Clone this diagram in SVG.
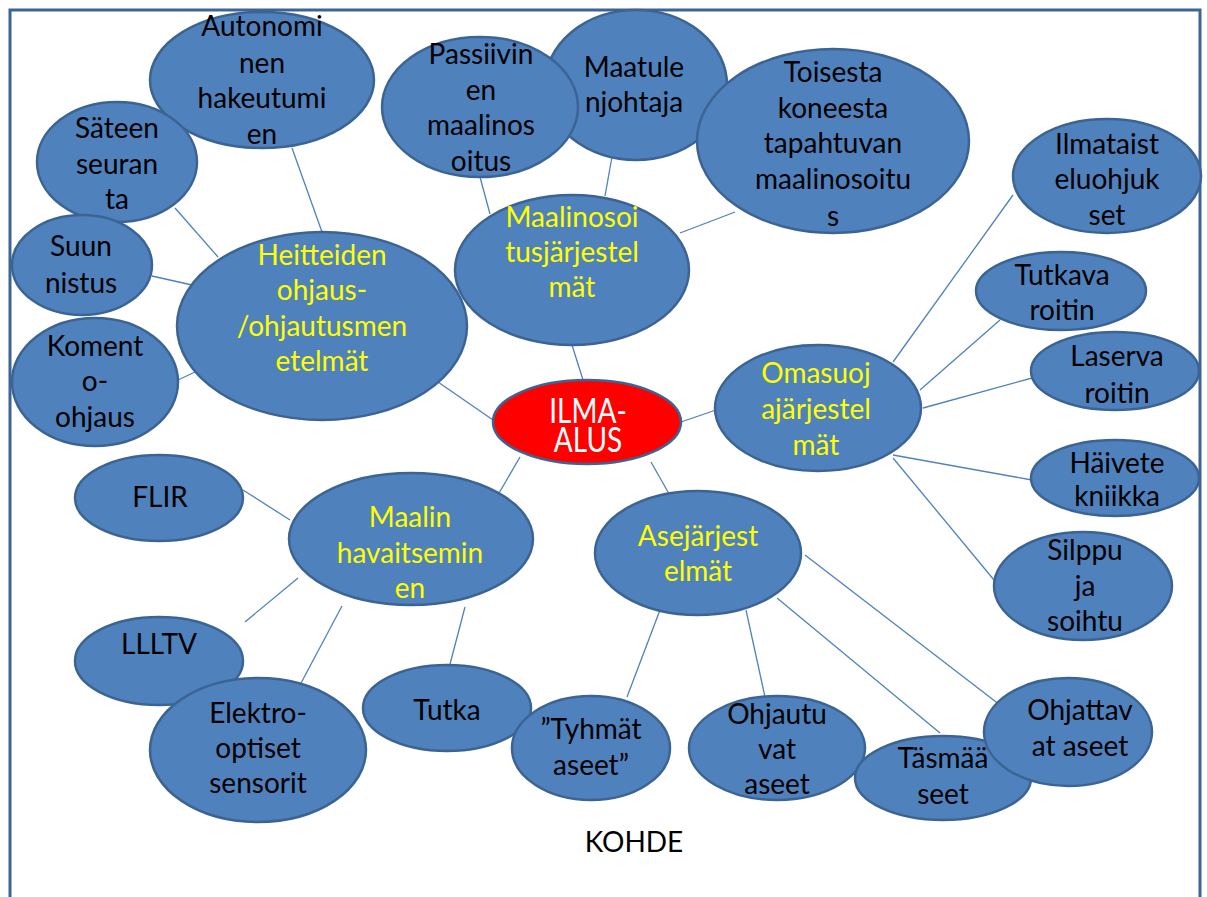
<svg xmlns="http://www.w3.org/2000/svg" width="1207" height="897" viewBox="0 0 1207 897">
<style>
.n{fill:#4F81BD;stroke:#3B6494;stroke-width:2.5}
.r{fill:#FF0000;stroke:#3B6494;stroke-width:2.5}
.t{font-family:Lato,"Open Sans",sans-serif;font-size:28px;text-anchor:middle;fill:#000}
.y{fill:#FFFF00}
.w{fill:#FFFFFF}
.c line{stroke:#4F81BD;stroke-width:1.3}
</style>
<rect width="1207" height="897" fill="#FFFFFF"/>
<rect x="10" y="10" width="1190" height="900" fill="none" stroke="#3E6396" stroke-width="3"/>
<g id="connectors" class="c">
<line x1="292" y1="148" x2="322" y2="232"/>
<line x1="175" y1="208" x2="218" y2="257"/>
<line x1="152" y1="276" x2="192" y2="285"/>
<line x1="178" y1="380" x2="195" y2="372"/>
<line x1="438" y1="382" x2="493" y2="420"/>
<line x1="480" y1="177" x2="490" y2="214"/>
<line x1="615" y1="140" x2="605" y2="196"/>
<line x1="735" y1="212" x2="680" y2="233"/>
<line x1="572" y1="345" x2="583" y2="380"/>
<line x1="681" y1="422" x2="716" y2="410"/>
<line x1="893" y1="362" x2="1013" y2="195"/>
<line x1="920" y1="390" x2="1000" y2="320"/>
<line x1="923" y1="408" x2="1032" y2="378"/>
<line x1="893" y1="455" x2="1032" y2="480"/>
<line x1="893" y1="458" x2="994" y2="580"/>
<line x1="520" y1="457" x2="495" y2="500"/>
<line x1="651" y1="462" x2="668" y2="492"/>
<line x1="243" y1="490" x2="290" y2="520"/>
<line x1="245" y1="622" x2="298" y2="578"/>
<line x1="342" y1="606" x2="300" y2="685"/>
<line x1="465" y1="607" x2="449" y2="668"/>
<line x1="660" y1="610" x2="627" y2="697"/>
<line x1="746" y1="610" x2="765" y2="697"/>
<line x1="777" y1="598" x2="940" y2="733"/>
<line x1="805" y1="555" x2="1000" y2="705"/>
</g>
<g id="autonomi"><ellipse class="n" cx="262" cy="80" rx="112" ry="68"/><text class="t"><tspan x="262" y="36">Autonomi</tspan><tspan x="262" y="73">nen</tspan><tspan x="262" y="108">hakeutumi</tspan><tspan x="262" y="144">en</tspan></text></g>
<g id="sateen"><ellipse class="n" cx="117" cy="162" rx="80" ry="60"/><text class="t"><tspan x="117" y="138">Säteen</tspan><tspan x="117" y="174">seuran</tspan><tspan x="117" y="209">ta</tspan></text></g>
<g id="suunnistus"><ellipse class="n" cx="82" cy="265" rx="70" ry="50"/><text class="t"><tspan x="81" y="256">Suun</tspan><tspan x="81" y="293">nistus</tspan></text></g>
<g id="komento"><ellipse class="n" cx="95" cy="382" rx="83" ry="64"/><text class="t"><tspan x="95" y="356">Koment</tspan><tspan x="95" y="391">o-</tspan><tspan x="95" y="427">ohjaus</tspan></text></g>
<g id="heitteiden"><ellipse class="n" cx="322" cy="326" rx="145" ry="94"/><text class="t y"><tspan x="322" y="265">Heitteiden</tspan><tspan x="322" y="300">ohjaus-</tspan><tspan x="322" y="336">/ohjautusmen</tspan><tspan x="322" y="371">etelmät</tspan></text></g>
<g id="maatulenjohtaja"><ellipse class="n" cx="636" cy="85" rx="91" ry="75"/><text class="t"><tspan x="634" y="77">Maatule</tspan><tspan x="634" y="112">njohtaja</tspan></text></g>
<g id="passiivinen"><ellipse class="n" cx="480" cy="107" rx="98" ry="70"/><text class="t"><tspan x="481" y="64">Passiivin</tspan><tspan x="481" y="100">en</tspan><tspan x="481" y="135">maalinos</tspan><tspan x="481" y="171">oitus</tspan></text></g>
<g id="toisesta"><ellipse class="n" cx="833" cy="141" rx="136" ry="92"/><text class="t"><tspan x="833" y="82">Toisesta</tspan><tspan x="833" y="118">koneesta</tspan><tspan x="833" y="153">tapahtuvan</tspan><tspan x="833" y="189">maalinosoitu</tspan><tspan x="833" y="226">s</tspan></text></g>
<g id="maalinosoitus"><ellipse class="n" cx="572" cy="270" rx="117" ry="75"/><text class="t y"><tspan x="572" y="227">Maalinosoi</tspan><tspan x="572" y="262">tusjärjestel</tspan><tspan x="572" y="297">mät</tspan></text></g>
<g id="ilma-alus"><ellipse class="r" cx="587" cy="422" rx="94" ry="42"/><text class="t w" transform="translate(588,423) scale(1,1.25)"><tspan x="0" y="0">ILMA-</tspan><tspan x="0" y="23.2">ALUS</tspan></text></g>
<g id="ilmataisteluohjukset"><ellipse class="n" cx="1107" cy="176" rx="94" ry="57"/><text class="t"><tspan x="1107" y="154">Ilmataist</tspan><tspan x="1107" y="189">eluohjuk</tspan><tspan x="1107" y="225">set</tspan></text></g>
<g id="tutkavaroitin"><ellipse class="n" cx="1061" cy="291" rx="85" ry="39"/><text class="t"><tspan x="1062" y="285">Tutkava</tspan><tspan x="1062" y="320">roitin</tspan></text></g>
<g id="laservaroitin"><ellipse class="n" cx="1115" cy="371" rx="84" ry="39"/><text class="t"><tspan x="1117" y="366">Laserva</tspan><tspan x="1117" y="403">roitin</tspan></text></g>
<g id="haivetekniikka"><ellipse class="n" cx="1115" cy="478" rx="84" ry="38"/><text class="t"><tspan x="1117" y="473">Häivete</tspan><tspan x="1117" y="506">kniikka</tspan></text></g>
<g id="silppu"><ellipse class="n" cx="1083" cy="586" rx="89" ry="54"/><text class="t"><tspan x="1085" y="560">Silppu</tspan><tspan x="1085" y="596">ja</tspan><tspan x="1085" y="631">soihtu</tspan></text></g>
<g id="omasuoja"><ellipse class="n" cx="818" cy="408" rx="103" ry="63"/><text class="t y"><tspan x="816" y="383">Omasuoj</tspan><tspan x="816" y="419">ajärjestel</tspan><tspan x="816" y="455">mät</tspan></text></g>
<g id="flir"><ellipse class="n" cx="159" cy="498" rx="84" ry="43"/><text class="t"><tspan x="160" y="507">FLIR</tspan></text></g>
<g id="maalinhavaitseminen"><ellipse class="n" cx="411" cy="539" rx="122" ry="66"/><text class="t y"><tspan x="410" y="527">Maalin</tspan><tspan x="410" y="563">havaitsemin</tspan><tspan x="410" y="598">en</tspan></text></g>
<g id="llltv"><ellipse class="n" cx="159" cy="661" rx="84" ry="44"/><text class="t"><tspan x="159" y="654">LLLTV</tspan></text></g>
<g id="elektro"><ellipse class="n" cx="258" cy="750" rx="108" ry="72"/><text class="t"><tspan x="258" y="723">Elektro-</tspan><tspan x="258" y="758">optiset</tspan><tspan x="258" y="793">sensorit</tspan></text></g>
<g id="tutka"><ellipse class="n" cx="447" cy="708" rx="84" ry="43"/><text class="t"><tspan x="447" y="720">Tutka</tspan></text></g>
<g id="asejarjestelmat"><ellipse class="n" cx="698" cy="553" rx="103" ry="62"/><text class="t y"><tspan x="698" y="546">Asejärjest</tspan><tspan x="698" y="581">elmät</tspan></text></g>
<g id="tyhmat"><ellipse class="n" cx="591" cy="748" rx="79" ry="52"/><text class="t"><tspan x="591" y="739">”Tyhmät</tspan><tspan x="591" y="775">aseet”</tspan></text></g>
<g id="ohjautuvat"><ellipse class="n" cx="777" cy="748" rx="88" ry="52"/><text class="t"><tspan x="777" y="724">Ohjautu</tspan><tspan x="777" y="759">vat</tspan><tspan x="777" y="794">aseet</tspan></text></g>
<g id="tasmaaseet"><ellipse class="n" cx="943" cy="778" rx="88" ry="42"/><text class="t"><tspan x="943" y="768">Täsmää</tspan><tspan x="943" y="804">seet</tspan></text></g>
<g id="ohjattavat"><ellipse class="n" cx="1068" cy="732" rx="84" ry="54"/><text class="t"><tspan x="1080" y="720">Ohjattav</tspan><tspan x="1080" y="756">at aseet</tspan></text></g>
<text class="t" x="634" y="852">KOHDE</text>
</svg>
